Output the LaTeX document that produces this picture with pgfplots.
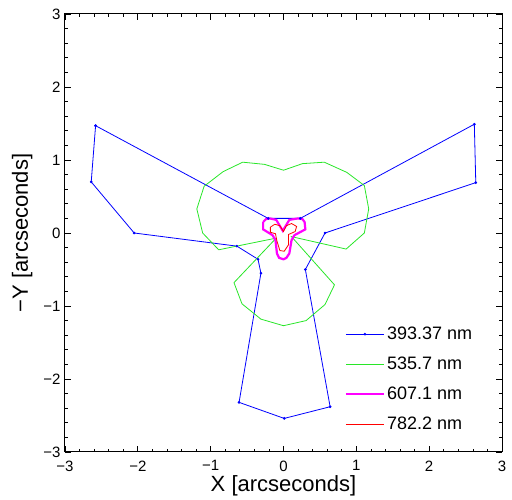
\documentclass[border=0pt]{standalone}
\usepackage{pgfplots}
\pgfplotsset{compat=1.18}
\usepackage{fontspec}
\setmainfont{Liberation Sans}
\definecolor{cblue}{RGB}{0,0,255}
\definecolor{cgreen}{RGB}{40,230,40}
\definecolor{cmag}{RGB}{255,0,255}
\definecolor{cred}{RGB}{255,0,0}
\begin{document}
\begin{tikzpicture}
\begin{axis}[
  scale only axis, width=437pt, height=438pt,
  xmin=-3, xmax=3, ymin=-3, ymax=3,
  xtick={-3,-2,-1,0,1,2,3}, ytick={-3,-2,-1,0,1,2,3},
  xticklabels={−3,−2,−1,0,1,2,3},
  yticklabels={−3,−2,−1,0,1,2,3},
  minor tick num=4,
  tick align=inside,
  major tick length=6pt, minor tick length=3pt,
  tick style={black, line width=0.7pt},
  axis line style={line width=1pt},
  ticklabel style={font=\fontsize{15}{15}\selectfont},
  xticklabel style={yshift=-5pt},
  yticklabel style={xshift=-1pt},
  xlabel={X [arcseconds]}, ylabel={−Y [arcseconds]},
  label style={font=\fontsize{22}{22}\selectfont},
  xlabel style={yshift=2pt},
  ylabel style={yshift=4pt},
  legend style={at={(0.64,0.29)}, anchor=north west, draw=none, fill=none,
    font=\fontsize{18}{18}\selectfont, row sep=12pt, inner sep=0pt},
  legend cell align=left,
  legend image code/.code={\draw[mark repeat=2,mark phase=2,#1] plot coordinates {(0pt,0pt)(19pt,0pt)(38pt,0pt)};},
]
\addplot[cblue, line width=0.8pt, mark=*, mark size=0.9pt] coordinates {
(-2.58,1.47)(-2.64,0.70)(-2.05,0.00)(-0.64,-0.18)(-0.35,-0.36)(-0.31,-0.55)
(-0.61,-2.32)(0.01,-2.54)(0.64,-2.38)(0.30,-0.50)(0.57,0.00)(2.64,0.69)
(2.62,1.49)(0.23,0.20)(-0.21,0.20)(-2.58,1.47)};
\addlegendentry{393.37 nm}
\addplot[cgreen, line width=0.8pt] coordinates {
(-0.10,-0.07)(-0.89,-0.23)(-1.11,0.00)(-1.19,0.33)(-1.09,0.64)(-0.83,0.84)
(-0.56,0.97)(-0.26,0.94)(0.00,0.86)(0.26,0.95)(0.56,0.97)(0.87,0.83)
(1.11,0.65)(1.17,0.33)(1.11,0.00)(0.86,-0.22)(0.11,-0.05)(0.70,-0.71)
(0.57,-0.98)(0.31,-1.20)(0.00,-1.27)(-0.31,-1.18)(-0.57,-0.97)(-0.68,-0.68)
(-0.10,-0.07)};
\addlegendentry{535.7 nm}
\addplot[cmag, line width=2.2pt] coordinates {
(-0.28,0.15)(-0.24,0.19)(-0.19,0.20)(-0.10,0.18)(-0.01,0.03)(0.08,0.18)(0.20,0.20)(0.26,0.19)
(0.29,0.15)(0.30,0.05)(0.15,-0.03)(0.11,-0.10)(0.08,-0.28)(0.04,-0.34)(0.00,-0.36)
(-0.06,-0.34)(-0.09,-0.28)(-0.11,-0.10)(-0.15,-0.03)(-0.28,0.05)(-0.28,0.15)};
\addlegendentry{607.1 nm}
\addplot[cred, line width=0.8pt] coordinates {
(-0.18,0.08)(-0.12,0.12)(-0.05,0.10)(0.00,0.02)(0.04,0.10)(0.11,0.13)
(0.18,0.09)(0.16,0.02)(0.07,-0.02)(0.07,-0.16)(0.01,-0.25)(-0.05,-0.24)
(-0.09,-0.11)(-0.11,-0.01)(-0.18,0.01)(-0.18,0.08)};
\addlegendentry{782.2 nm}
\end{axis}
\path (current axis.south west) ++(-65pt,-48pt) coordinate (bbA);
\path (current axis.north east) ++(10pt,14pt) coordinate (bbB);
\path (bbA) rectangle (bbB);
\end{tikzpicture}
\end{document}
